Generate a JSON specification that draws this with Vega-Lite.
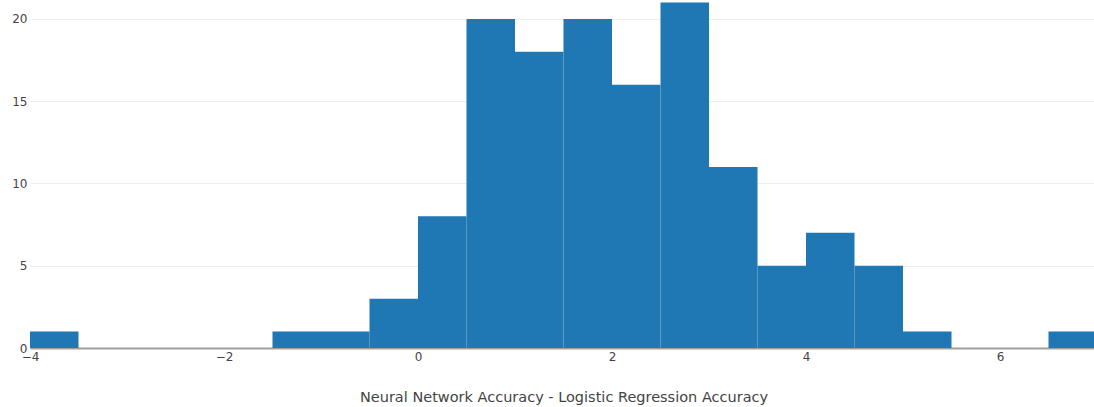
{
  "$schema": "https://vega.github.io/schema/vega-lite/v6.json",
  "autosize": {"type": "none"},
  "width": 1067,
  "height": 348,
  "padding": {"left": 30, "top": 0, "right": 0, "bottom": 59},
  "background": "white",
  "config": {"view": {"stroke": null}, "font": "DejaVu Sans"},
  "data": {"values": [
    {"bin_start": -4, "bin_end": -3.5, "count": 1},
    {"bin_start": -1.5, "bin_end": -1, "count": 1},
    {"bin_start": -1, "bin_end": -0.5, "count": 1},
    {"bin_start": -0.5, "bin_end": 0, "count": 3},
    {"bin_start": 0, "bin_end": 0.5, "count": 8},
    {"bin_start": 0.5, "bin_end": 1, "count": 20},
    {"bin_start": 1, "bin_end": 1.5, "count": 18},
    {"bin_start": 1.5, "bin_end": 2, "count": 20},
    {"bin_start": 2, "bin_end": 2.5, "count": 16},
    {"bin_start": 2.5, "bin_end": 3, "count": 21},
    {"bin_start": 3, "bin_end": 3.5, "count": 11},
    {"bin_start": 3.5, "bin_end": 4, "count": 5},
    {"bin_start": 4, "bin_end": 4.5, "count": 7},
    {"bin_start": 4.5, "bin_end": 5, "count": 5},
    {"bin_start": 5, "bin_end": 5.5, "count": 1},
    {"bin_start": 6.5, "bin_end": 7, "count": 1}
  ]},
  "mark": {"type": "bar", "color": "#1f77b4", "stroke": null},
  "encoding": {
    "x": {
      "field": "bin_start", "type": "quantitative",
      "scale": {"domain": [-4, 7], "nice": false, "zero": false},
      "axis": {
        "title": "Neural Network Accuracy - Logistic Regression Accuracy",
        "titleFont": "DejaVu Sans", "titleFontSize": 14.5, "titleFontWeight": "normal", "titleColor": "#444",
        "titlePadding": 28,
        "values": [-4, -2, 0, 2, 4, 6],
        "labelFont": "DejaVu Sans", "labelFontSize": 12, "labelColor": "#444", "labelPadding": 3,
        "labelFlush": false,
        "ticks": false, "grid": false,
        "domainColor": "#a0a0a0", "domainWidth": 2
      }
    },
    "x2": {"field": "bin_end"},
    "y": {
      "field": "count", "type": "quantitative",
      "scale": {"domain": [0, 21.15], "nice": false},
      "axis": {
        "title": null,
        "values": [0, 5, 10, 15, 20],
        "labelFont": "DejaVu Sans", "labelFontSize": 12, "labelColor": "#444", "labelPadding": 3,
        "ticks": false, "domain": false,
        "gridColor": "#eeeeee", "gridWidth": 1
      }
    },
    "y2": {"datum": 0}
  }
}
